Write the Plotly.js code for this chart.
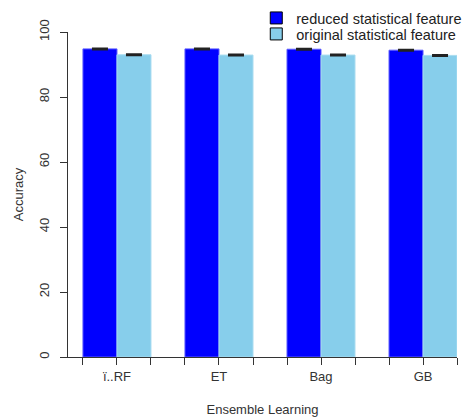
<!DOCTYPE html>
<html>
<head>
<meta charset="utf-8">
<script src="https://cdn.plot.ly/plotly-3.0.1.min.js"></script>
<style>html,body{margin:0;padding:0;background:#fff;}#chart{width:464px;height:418px;}</style>
</head>
<body>
<div id="chart"></div>
<script>
var categories = ["ï..RF", "ET", "Bag", "GB"];
var seriesNames = ["reduced statistical feature", "original statistical feature"];
var reducedAcc = [94.8, 94.8, 94.7, 94.4];
var reducedErr = [0.15, 0.15, 0.15, 0.15];
var originalAcc = [93.0, 92.9, 92.9, 92.8];
var originalErr = [0.15, 0.15, 0.15, 0.15];
var yTicks = [0, 20, 40, 60, 80, 100];

var xs = categories.map(function (c, i) { return i; });

var traces = [
  {
    type: "bar", name: seriesNames[0], x: xs, y: reducedAcc, showlegend: false, offsetgroup: "a",
    marker: { color: "#0000FF", line: { color: "#5a5aff", width: 1 } },
    error_y: { type: "data", array: reducedErr, visible: true, color: "#222", thickness: 2, width: 8 }
  },
  {
    type: "bar", name: seriesNames[1], x: xs, y: originalAcc, showlegend: false, offsetgroup: "b",
    marker: { color: "#87CEEB", line: { color: "#a9dcf0", width: 1 } },
    error_y: { type: "data", array: originalErr, visible: true, color: "#222", thickness: 2, width: 8 }
  },
  { type: "bar", name: seriesNames[0], x: [null], y: [null], legend: "legend", showlegend: true, hoverinfo: "skip", offsetgroup: "a",
    marker: { color: "#0000FF", line: { color: "#000", width: 1 } } },
  { type: "bar", name: seriesNames[1], x: [null], y: [null], legend: "legend2", showlegend: true, hoverinfo: "skip", offsetgroup: "b",
    marker: { color: "#87CEEB", line: { color: "#000", width: 1 } } }
];

var legendBase = {
  x: 0.484, xref: "paper", yref: "container", xanchor: "left", yanchor: "top",
  bgcolor: "rgba(0,0,0,0)", font: { size: 14.5, color: "#222" }, itemwidth: 30
};

var layout = {
  width: 464, height: 418,
  margin: { l: 68, r: 7, t: 32, b: 61, autoexpand: false },
  paper_bgcolor: "#fff", plot_bgcolor: "#fff",
  font: { family: "Liberation Sans, Arial, sans-serif", size: 13, color: "#333" },
  barmode: "group", bargap: 1/3, bargroupgap: 0,
  showlegend: true,
  legend: Object.assign({}, legendBase, { y: 1 - 2/418 }),
  legend2: Object.assign({}, legendBase, { y: 1 - 18/418 }),
  xaxis: {
    range: [-0.48, 3.333], tickmode: "array", tickvals: xs, ticktext: categories,
    showgrid: false, zeroline: false, showline: true, linecolor: "#333", linewidth: 1,
    ticks: "outside", ticklen: 7, tickcolor: "#333", tickfont: { size: 13, color: "#333" },
    minor: { ticks: "outside", ticklen: 7, tickcolor: "#333", dtick: 1/3, tick0: 0, showgrid: false },
    title: { text: "Ensemble Learning", font: { size: 13, color: "#333" }, standoff: 22 }
  },
  yaxis: {
    range: [0, 100], tickmode: "array", tickvals: yTicks,
    showgrid: false, zeroline: false, showline: true, linecolor: "#333", linewidth: 1,
    ticks: "outside", ticklen: 7, tickcolor: "#333", tickangle: -90, tickfont: { size: 13, color: "#333" },
    ticklabelstandoff: 6,
    title: { text: "Accuracy", font: { size: 13, color: "#333" }, standoff: 10 }
  }
};

Plotly.newPlot("chart", traces, layout, { displayModeBar: false, staticPlot: true });
</script>
</body>
</html>
